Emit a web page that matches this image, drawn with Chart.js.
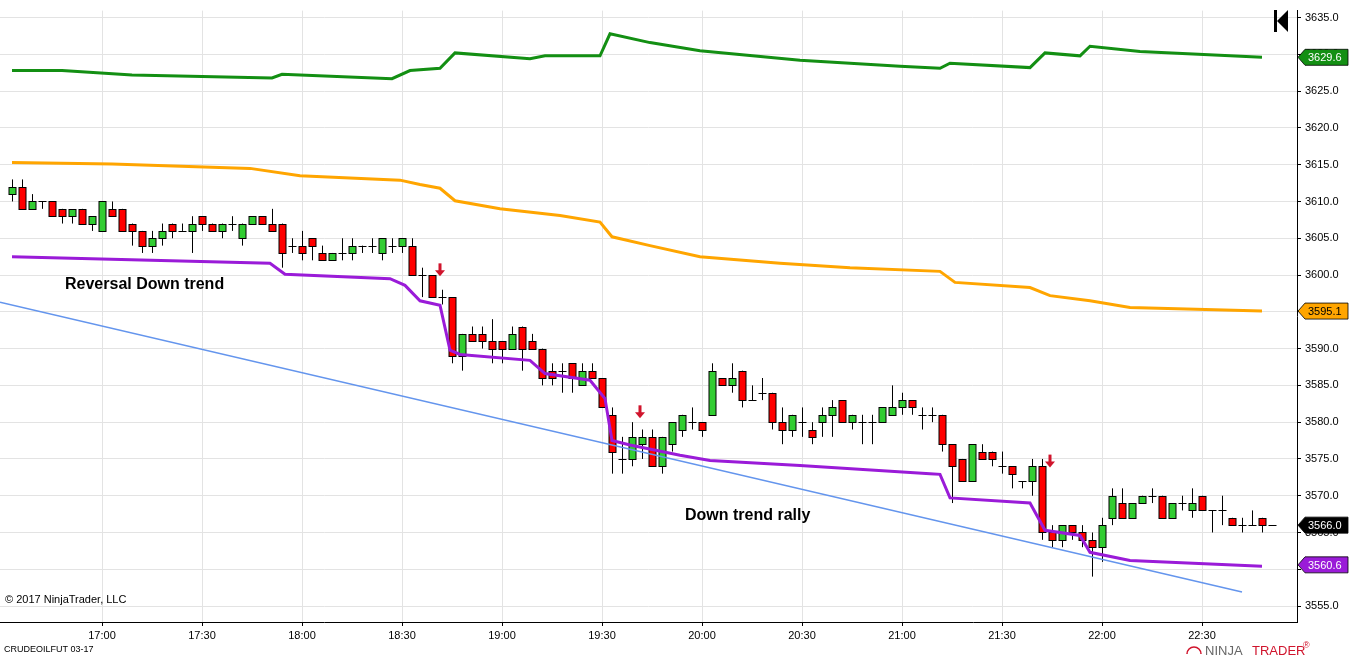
<!DOCTYPE html>
<html>
<head>
<meta charset="utf-8">
<script src="https://cdn.jsdelivr.net/npm/chart.js@4"></script>
<style>
  html, body { margin: 0; padding: 0; background: #fff; }
  #wrap { width: 1350px; height: 660px; position: relative; }
</style>
</head>
<body>
<div id="wrap"><canvas id="chart" width="1350" height="660"></canvas></div>
<script>
// 3-minute bars, bar 0 = 16:33
var opens  = [3611,3612,3609,3610,3610,3609,3608,3609,3607,3606,3609,3609,3607,3606,3604,3605,3607,3606,3606,3608,3607,3606,3607,3605,3607,3608,3607,3607,3604,3604,3605,3603,
              3602,3603,3603,3604,3604,3603,3604,3604,3604,3600,3600,3597,3597,3589,3592,3592,3591,3591,3590,3593,3591,3590,3587,3587,3588,3585,3587,3586,
              3581,3575,3575,3577,3578,3574,3577,3579,3580,3580,3581,3586,3585,3587,3583,3584,3584,3580,3579,3580,3579,3580,3581,3583,3580,3580,3580,3580,3581,3582,3583,3581,3581,
              3581,3577,3575,3572,3576,3576,3574,3574,3572,3572,3574,3565,3564,3566,3565,3564,3563,3567,3569,3567,3569,3570,3570,3567,3569,3568,3570,3568,3568,3567,3566,3566,3567,3566];
var highs  = [3613,3613,3611,3610,3610,3609,3608,3609,3608,3610,3610,3609,3607,3606,3606,3607,3607,3607,3608,3608,3607,3607,3608,3607,3608,3608,3609,3607,3605,3606,3605,3604,
              3603,3605,3605,3604,3605,3605,3605,3605,3605,3601,3600,3598,3597,3592,3593,3593,3594,3591,3593,3593,3592,3590,3588,3588,3588,3588,3588,3586,
              3582,3578,3580,3579,3579,3578,3580,3581,3582,3580,3588,3586,3588,3587,3585,3586,3584,3582,3581,3582,3580,3582,3583,3583,3581,3581,3581,3582,3585,3584,3583,3582,3582,
              3581,3577,3575,3577,3577,3576,3576,3574,3572,3575,3575,3566,3566,3566,3566,3565,3567,3571,3571,3569,3570,3571,3570,3569,3570,3571,3570,3568,3570,3567,3567,3568,3567,3566];
var lows   = [3610,3609,3609,3609,3608,3607,3607,3607,3606,3606,3608,3606,3604,3603,3603,3604,3605,3606,3603,3606,3606,3605,3606,3604,3607,3607,3606,3601,3603,3602,3602,3602,
              3602,3602,3602,3603,3603,3602,3603,3603,3600,3597,3597,3596,3588,3587,3591,3590,3588,3588,3590,3587,3590,3585,3585,3584,3584,3585,3586,3582,
              3573,3573,3574,3575,3574,3573,3576,3578,3579,3578,3581,3585,3584,3582,3583,3583,3579,3577,3578,3578,3577,3578,3578,3580,3579,3577,3577,3580,3581,3581,3581,3579,3580,
              3576,3569,3572,3572,3575,3574,3573,3571,3571,3570,3564,3563,3563,3564,3563,3559,3561,3566,3567,3567,3569,3569,3567,3567,3568,3567,3568,3565,3566,3566,3565,3566,3565,3566];
var closes = [3612,3609,3610,3610,3608,3608,3609,3607,3608,3610,3608,3606,3606,3604,3605,3606,3606,3606,3607,3607,3606,3607,3607,3607,3608,3607,3606,3603,3604,3603,3604,3602,
              3603,3603,3604,3604,3604,3605,3604,3605,3600,3600,3597,3597,3589,3592,3591,3591,3590,3590,3592,3590,3590,3586,3586,3587,3586,3587,3586,3582,
              3576,3575,3578,3578,3574,3578,3580,3581,3580,3579,3587,3585,3586,3583,3583,3584,3580,3579,3581,3580,3578,3581,3582,3580,3581,3580,3580,3582,3582,3583,3582,3581,3581,
              3577,3574,3572,3577,3575,3575,3574,3573,3572,3574,3565,3564,3566,3565,3564,3563,3566,3570,3567,3569,3570,3570,3567,3569,3569,3569,3568,3568,3568,3566,3566,3566,3566,3566];

var tickIndex  = [9, 19, 29, 39, 49, 59, 69, 79, 89, 99, 109, 119];
var tickLabels = ['17:00','17:30','18:00','18:30','19:00','19:30','20:00','20:30','21:00','21:30','22:00','22:30'];

// band lines: [bar index, price] read at their turning points
var upperBand = [[0,3627.8],[5,3627.8],[12,3627.2],[26,3626.8],[27,3627.3],[38,3626.7],[39.8,3627.8],[42.8,3628.1],[44.3,3630.2],[51.8,3629.4],[53.3,3629.8],[58.8,3629.8],[59.8,3632.8],[63.8,3631.6],[68.8,3630.5],[78.8,3629.2],[88.8,3628.4],[92.8,3628.1],[93.8,3628.8],[101.8,3628.2],[103.3,3630.2],[106.8,3629.8],[107.8,3631.1],[112.8,3630.4],[125,3629.6]];
var middleBand = [[0,3615.3],[10,3615.1],[23.8,3614.5],[28.8,3613.5],[38.8,3612.9],[40.8,3612.3],[42.8,3611.8],[44.3,3610.1],[48.8,3609],[54.8,3608.1],[58.8,3607.2],[60,3605.2],[63.8,3604],[68.8,3602.5],[76.8,3601.6],[83.8,3601],[92.8,3600.5],[94.3,3599],[101.8,3598.3],[103.8,3597.2],[107.8,3596.5],[111.8,3595.6],[125,3595.1]];
var lowerBand  = [[0,3602.5],[25.8,3601.6],[27.3,3600.1],[37.8,3599.5],[39.3,3598.6],[40.8,3596.5],[42.8,3595.9],[43.8,3589.8],[44.8,3589.2],[51.8,3588.4],[53.3,3586.6],[57.8,3585.7],[59.3,3583.2],[60,3577.5],[61.8,3576.9],[66.8,3575.5],[69.8,3574.8],[78.8,3574.1],[91.8,3573],[92.8,3572.9],[93.8,3569.7],[101.8,3569],[103.3,3565.3],[106.8,3564.6],[107.8,3562.3],[111.8,3561.2],[125,3560.4]];
var trendLine  = [[-1.2,3596.3],[123,3556.9]];

var priceTags = [
  { value: 3629.6, text: '3629.6', bg: '#138f13', fg: '#fff' },
  { value: 3595.1, text: '3595.1', bg: '#ffa500', fg: '#000' },
  { value: 3566.0, text: '3566.0', bg: '#000', fg: '#fff' },
  { value: 3560.6, text: '3560.6', bg: '#9a1bd8', fg: '#fff' }
];
var signalArrows = [[42.8, 3600.5], [62.8, 3581.2], [103.8, 3574.5]];

function pts(arr) { return arr.map(function (p) { return { x: p[0], y: p[1] }; }); }

var candlePlugin = {
    id: 'candles',
    beforeDatasetsDraw: function (chart) {
        var ctx = chart.ctx, xs = chart.scales.x, ys = chart.scales.y;
        ctx.save();
        for (var i = 0; i < opens.length; i++) {
            var x = Math.round(xs.getPixelForValue(i)) + 0.5;
            var o = ys.getPixelForValue(opens[i]), c = ys.getPixelForValue(closes[i]);
            var h = ys.getPixelForValue(highs[i]), l = ys.getPixelForValue(lows[i]);
            ctx.strokeStyle = '#000';
            ctx.lineWidth = 1;
            ctx.beginPath(); ctx.moveTo(x, h); ctx.lineTo(x, l); ctx.stroke();
            if (opens[i] === closes[i]) {
                ctx.beginPath(); ctx.moveTo(x - 4, Math.round(o) + 0.5); ctx.lineTo(x + 4, Math.round(o) + 0.5); ctx.stroke();
            } else {
                var top = Math.round(Math.min(o, c)), bot = Math.round(Math.max(o, c));
                ctx.fillStyle = closes[i] > opens[i] ? '#32cd32' : '#ff0000';
                ctx.fillRect(x - 3.5, top + 0.5, 7, bot - top);
                ctx.strokeRect(x - 3.5, top + 0.5, 7, bot - top);
            }
        }
        ctx.restore();
    },
    afterDraw: function (chart) {
        var ctx = chart.ctx, xs = chart.scales.x, ys = chart.scales.y, a = chart.chartArea;
        ctx.save();
        signalArrows.forEach(function (s) {
            var x = xs.getPixelForValue(s[0]), y = ys.getPixelForValue(s[1]);
            ctx.fillStyle = '#d0142c';
            ctx.fillRect(x - 1.5, y - 8, 3, 8);
            ctx.beginPath(); ctx.moveTo(x - 5, y - 1); ctx.lineTo(x + 5, y - 1); ctx.lineTo(x, y + 5); ctx.closePath(); ctx.fill();
        });
        ctx.fillStyle = '#000';
        ctx.font = 'bold 16px "Liberation Sans", Arial, sans-serif';
        ctx.textBaseline = 'middle';
        ctx.fillText('Reversal Down trend', 65, 285);
        ctx.fillText('Down trend rally', 685, 516);
        ctx.font = '11px "Liberation Sans", Arial, sans-serif';
        ctx.fillText('\u00a9 2017 NinjaTrader, LLC', 5, 600);
        ctx.font = '9px "Liberation Sans", Arial, sans-serif';
        ctx.fillText('CRUDEOILFUT 03-17', 4, 650);
        ctx.font = '13px "Liberation Sans", Arial, sans-serif';
        ctx.fillStyle = '#666';
        ctx.fillText('NINJA', 1205, 651);
        ctx.fillStyle = '#d0142c';
        ctx.fillText('TRADER', 1252, 651);
        ctx.font = '9px "Liberation Sans", Arial, sans-serif';
        ctx.fillText('\u00ae', 1303, 646);
        ctx.strokeStyle = '#d0142c'; ctx.lineWidth = 1.5;
        ctx.beginPath(); ctx.arc(1194, 654, 7, Math.PI, 2 * Math.PI); ctx.stroke();
        ctx.fillStyle = '#000';
        ctx.fillRect(1274, 10, 3, 22);
        ctx.beginPath(); ctx.moveTo(1288, 10); ctx.lineTo(1288, 32); ctx.lineTo(1277, 21); ctx.closePath(); ctx.fill();
        ctx.font = '11px "Liberation Sans", Arial, sans-serif';
        priceTags.forEach(function (t) {
            var y = ys.getPixelForValue(t.value), x0 = a.right + 1;
            ctx.fillStyle = t.bg;
            ctx.beginPath();
            ctx.moveTo(x0, y); ctx.lineTo(x0 + 7, y - 8); ctx.lineTo(x0 + 50, y - 8);
            ctx.lineTo(x0 + 50, y + 8); ctx.lineTo(x0 + 7, y + 8); ctx.closePath();
            ctx.fill();
            ctx.strokeStyle = '#000'; ctx.lineWidth = 0.8; ctx.stroke();
            ctx.fillStyle = t.fg;
            ctx.fillText(t.text, x0 + 10, y + 1);
        });
        ctx.restore();
    }
};

var ctx = document.getElementById('chart').getContext('2d');
var myChart = new Chart(ctx, {
    type: 'line',
    data: {
        datasets: [
            { data: pts(upperBand), borderColor: '#138f13', borderWidth: 3 },
            { data: pts(middleBand), borderColor: '#ffa500', borderWidth: 3 },
            { data: pts(lowerBand), borderColor: '#9a1bd8', borderWidth: 3 },
            { data: pts(trendLine), borderColor: '#6495ed', borderWidth: 1.5 }
        ]
    },
    options: {
        responsive: false,
        maintainAspectRatio: false,
        animation: false,
        devicePixelRatio: 1,
        layout: { padding: 0 },
        elements: { point: { radius: 0 }, line: { tension: 0 } },
        plugins: { legend: { display: false }, tooltip: { enabled: false } },
        scales: {
            x: {
                type: 'linear', min: -1.2, max: 128.5,
                afterBuildTicks: function (axis) {
                    axis.ticks = tickIndex.map(function (v) { return { value: v }; });
                },
                afterFit: function (axis) { axis.height = 38; },
                ticks: {
                    autoSkip: false, maxRotation: 0, color: '#000',
                    font: { size: 11, family: '"Liberation Sans", Arial, sans-serif' },
                    callback: function (v) { return tickLabels[tickIndex.indexOf(v)]; }
                },
                grid: { color: '#e3e3e3', drawTicks: true, tickLength: 4, tickColor: '#000' },
                border: { color: '#000' }
            },
            y: {
                position: 'right', min: 3552.83, max: 3635.95,
                afterBuildTicks: function (axis) {
                    var t = [];
                    for (var v = 3555; v <= 3635; v += 5) t.push({ value: v });
                    axis.ticks = t;
                },
                afterFit: function (axis) { axis.width = 53; },
                ticks: {
                    color: '#000', padding: 4,
                    font: { size: 11, family: '"Liberation Sans", Arial, sans-serif' },
                    callback: function (v) { return v.toFixed(1); }
                },
                grid: { color: '#e3e3e3', tickLength: 4, tickColor: '#000' },
                border: { color: '#000' }
            }
        }
    },
    plugins: [candlePlugin]
});
</script>
</body>
</html>
